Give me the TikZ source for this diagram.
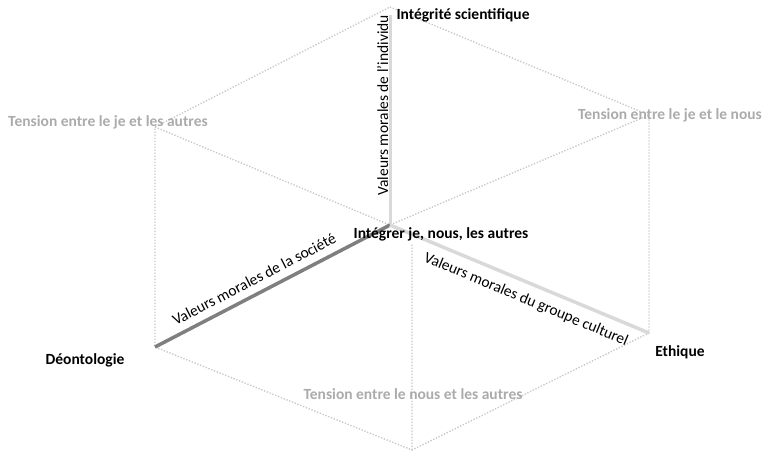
\documentclass[tikz,border=0pt]{standalone}
\usepackage{fontspec}
\setmainfont{Carlito}
\usepackage{tikz}

\definecolor{pointgris}{HTML}{C8C8C8}
\definecolor{textgris}{HTML}{ABABAB}
\definecolor{axeclair}{HTML}{D9D9D9}
\definecolor{axefonce}{HTML}{7F7F7F}

\begin{document}
\begin{tikzpicture}[x=1pt,y=-1pt,font=\fontsize{15.5}{18}\selectfont,
	pointille/.style={pointgris,line width=1.4pt,dash pattern=on 1.3pt off 1.7pt},
	axe/.style={line width=3.5pt},
	tensionlbl/.style={textgris,font=\fontsize{15.5}{18}\selectfont\bfseries},
	pole/.style={font=\fontsize{15.5}{18}\selectfont\bfseries}]
				\useasboundingbox (0,0) rectangle (764,453);
				\coordinate (C) at (390,225);
				\coordinate (T) at (390,7);
				\coordinate (UR) at (649,115);
				\coordinate (LR) at (649,333);
				\coordinate (B) at (412,450);
				\coordinate (LL) at (155,347);
				\coordinate (UL) at (155,127);
				\coordinate (Bh) at (412,244);
				% contour et aretes cachees
				\draw[pointille] (T) -- (UR) -- (LR) -- (B) -- (LL) -- (UL) -- cycle;
				\draw[pointille] (UL) -- (C) -- (UR) (B) -- (Bh);
				% axes
				\draw[axe,axeclair,line width=3pt] (C) -- (390,15)
					node[pos=0.57,sloped,above=-3pt,black] (indiv) {Valeurs morales de l'individu};
				\draw[axe,axefonce] (LL) -- (C)
					node[pos=0.45,sloped,above=4pt,black] (soc) {Valeurs morales de la société};
				\draw[axe,axeclair] (C) -- (LR)
					node[pos=0.55,sloped,below=5pt,black] (cult) {Valeurs morales du groupe culturel};
				% etiquettes
				\node[pole,anchor=west] (integ) at (393,15) {Intégrité scientifique};
				\node[pole] (centre) at (441,234) {Intégrer je, nous, les autres};
				\node[pole] (deonto) at (85,360) {Déontologie};
				\node[pole] (ethi) at (680,352) {Ethique};
				\node[tensionlbl] (jeautres) at (108,122) {Tension entre le je et les autres};
				\node[tensionlbl] (jenous) at (670,115) {Tension entre le je et le nous};
				\node[tensionlbl] (nousautres) at (413,394) {Tension entre le nous et les autres};
			\end{tikzpicture}
\end{document}
